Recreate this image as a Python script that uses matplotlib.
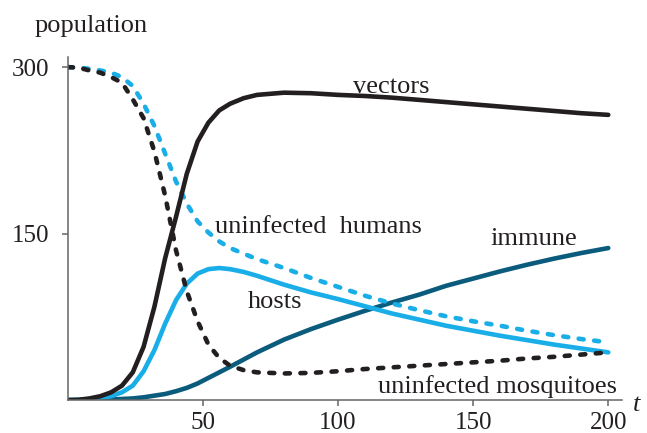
import matplotlib
matplotlib.use("Agg")
import matplotlib.pyplot as plt

# time points (t) and population values
t = [0, 4, 8, 12, 16, 20, 24, 28, 32, 36, 40, 44, 48, 52, 56, 60, 65, 70,
     80, 90, 100, 110, 120, 130, 140, 150, 160, 170, 180, 190, 200]

vectors = [0, 0.3, 1.5, 3.5, 7, 13, 25, 48, 84, 128, 165, 204, 233, 250,
           261, 267, 272, 275, 277, 276.5, 275, 274, 272.5, 270.5, 268.5,
           266.5, 264.5, 262.5, 260.5, 258.5, 257]
uninfected_humans = [300, 299.5, 298.5, 297, 295, 291, 283, 267, 247, 222,
                     197, 177, 161, 151, 143, 137, 132, 127, 119, 110, 102,
                     94, 87, 81, 75.5, 71, 67, 62.5, 58.5, 55, 52]
hosts = [0, 0.2, 0.8, 2, 3.5, 7, 13, 26, 45, 69, 90, 105, 114, 118, 119,
         118, 115.5, 112, 104, 97, 91, 84.5, 78, 72.5, 67, 62.5, 58, 54, 50,
         46.5, 43]
immune = [0, 0, 0, 0, 0.5, 1, 1.5, 2.5, 4, 5.5, 8, 11, 15, 20, 25, 30, 36.5,
          43, 54.5, 64, 72.5, 80.5, 88, 95, 103, 109.5, 116, 122, 127.5,
          132.5, 137]
uninfected_mosq = [300, 299.5, 297, 295, 291, 286, 271, 254, 224, 184, 135,
                   98, 71, 50, 38, 31, 27, 25, 24, 24.5, 26, 28, 29.5, 31,
                   32.5, 34, 35.5, 37.5, 39, 41, 43]

xticks = [50, 100, 150, 200]
yticks = [150, 300]

BLACK = "#231f20"
CYAN = "#19aee8"
TEAL = "#0b5c7c"
AXIS = "#666666"

plt.rcParams["font.family"] = ["Liberation Serif", "DejaVu Serif"]
plt.rcParams["text.color"] = BLACK

fig = plt.figure(figsize=(6.47, 4.33), dpi=100)
ax = fig.add_axes([0.105, 0.076, 0.856, 0.792])

lw = 3.3
dash = (1.1, 2.3)
ax.plot(t, immune, color=TEAL, lw=lw, solid_capstyle="round",
        solid_joinstyle="round")
ax.plot(t, hosts, color=CYAN, lw=lw, solid_capstyle="round",
        solid_joinstyle="round")
ax.plot(t, uninfected_humans, color=CYAN, lw=lw, dashes=dash,
        dash_capstyle="round")
ax.plot(t, uninfected_mosq, color=BLACK, lw=lw, dashes=dash,
        dash_capstyle="round")
ax.plot(t, vectors, color=BLACK, lw=lw, solid_capstyle="round",
        solid_joinstyle="round")

ax.set_xlim(0, 205)
ax.set_ylim(0, 309)
for s in ["top", "right"]:
    ax.spines[s].set_visible(False)
for s in ["left", "bottom"]:
    ax.spines[s].set_color(AXIS)
    ax.spines[s].set_linewidth(1.1)

ax.set_xticks(xticks)
ax.set_yticks(yticks)
ax.tick_params(direction="out", length=4.5, width=1.1, color=AXIS,
               labelsize=18, labelcolor=BLACK)
ax.tick_params(axis="x", pad=4)
ax.tick_params(axis="y", pad=9)

fs = 19
ax.text(119.8, 276.5, "vectors", fontsize=fs, ha="center", va="baseline")
ax.text(54.4, 150.5, "uninfected  humans", fontsize=fs, ha="left",
        va="baseline")
ax.text(172.4, 139.5, "immune", fontsize=fs, ha="center", va="baseline")
ax.text(76.7, 83, "hosts", fontsize=fs, ha="center", va="baseline")
ax.text(203.3, 6.3, "uninfected mosquitoes", fontsize=fs, ha="right",
        va="baseline")

fig.text(0.054, 0.927, "population", fontsize=fs, ha="left", va="baseline")
ax.text(209, -10, "t", fontsize=19, style="italic", ha="left",
        va="baseline")

fig.savefig("out.png", dpi=100)
